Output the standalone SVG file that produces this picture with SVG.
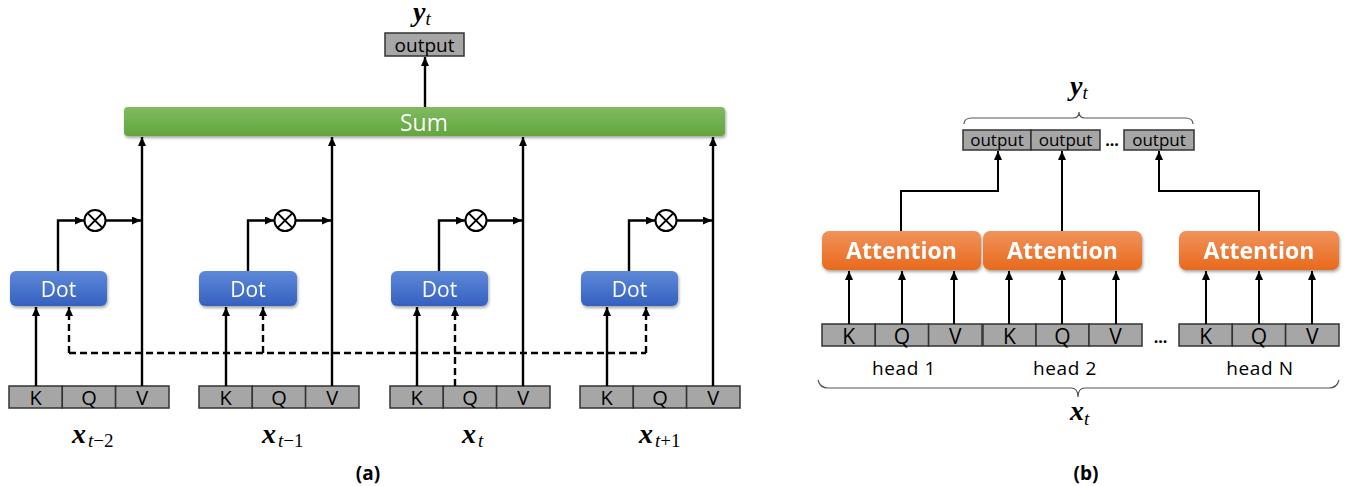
<svg xmlns="http://www.w3.org/2000/svg" width="1347" height="486" viewBox="0 0 1347 486">
  <defs>
    <linearGradient id="gSum" x1="0" y1="0" x2="0" y2="1">
      <stop offset="0" stop-color="#80ba62"/>
      <stop offset="1" stop-color="#62a63c"/>
    </linearGradient>
    <linearGradient id="gDot" x1="0" y1="0" x2="0" y2="1">
      <stop offset="0" stop-color="#5e89d8"/>
      <stop offset="1" stop-color="#3461c0"/>
    </linearGradient>
    <linearGradient id="gAtt" x1="0" y1="0" x2="0" y2="1">
      <stop offset="0" stop-color="#f1935b"/>
      <stop offset="1" stop-color="#e8691c"/>
    </linearGradient>
    <filter id="shadow" x="-10%" y="-30%" width="120%" height="170%">
      <feDropShadow dx="1" dy="2" stdDeviation="1.4" flood-color="#000" flood-opacity="0.35"/>
    </filter>
    <marker id="arrow" viewBox="0 0 9 8" refX="9" refY="4" markerWidth="9" markerHeight="8" markerUnits="userSpaceOnUse" orient="auto">
      <path d="M0,0 L9,4 L0,8 z" fill="#000"/>
    </marker>
  </defs>
  <style>
    text { font-family: "Open Sans", "Liberation Sans", sans-serif; }
    .cell { fill: #a6a6a6; stroke: #333; stroke-width: 1.5; }
    .wt { fill: #fff; text-anchor: middle; }
    .ct { fill: #000; text-anchor: middle; }
    .math { font-family: "Liberation Serif", "DejaVu Serif", serif; font-style: italic; fill: #000; }
    .mb { font-weight: bold; font-size: 28px; }
    .ms { font-size: 19px; }
    .up { font-style: normal; }
    .cap { font-weight: bold; font-size: 19px; text-anchor: middle; fill: #000; }
    .ln { fill: none; stroke: #000; stroke-width: 2.4; }
    .lnb { fill: none; stroke: #000; stroke-width: 2; }
    .dash { fill: none; stroke: #000; stroke-width: 2.4; stroke-dasharray: 7 4; }
    .brace { fill: none; stroke: #555; stroke-width: 1.2; }
  </style>

  <!-- ===== (a) single-head attention over time steps ===== -->
  <g id="a-output">
    <rect class="cell" x="385" y="33" width="79" height="23"/>
    <text class="ct" x="424.5" y="52" font-size="19">output</text>
    <text class="math" x="413" y="21"><tspan class="mb">y</tspan><tspan class="ms" dy="4">t</tspan></text>
  </g>

  <g id="a-sum" filter="url(#shadow)">
    <rect x="124" y="107" width="601" height="29" rx="4" fill="url(#gSum)"/>
    <text class="wt" x="424" y="131" font-size="23">Sum</text>
  </g>

  <!-- Dot units -->
  <g id="a-dot-1" filter="url(#shadow)">
    <rect x="10" y="271" width="97" height="35" rx="6" fill="url(#gDot)"/>
    <text class="wt" x="58.5" y="297" font-size="21">Dot</text>
  </g>
  <g id="a-dot-2" filter="url(#shadow)">
    <rect x="199" y="271" width="98" height="35" rx="6" fill="url(#gDot)"/>
    <text class="wt" x="248" y="297" font-size="21">Dot</text>
  </g>
  <g id="a-dot-3" filter="url(#shadow)">
    <rect x="391" y="271" width="97" height="35" rx="6" fill="url(#gDot)"/>
    <text class="wt" x="439.5" y="297" font-size="21">Dot</text>
  </g>
  <g id="a-dot-4" filter="url(#shadow)">
    <rect x="581" y="271" width="97" height="35" rx="6" fill="url(#gDot)"/>
    <text class="wt" x="629.5" y="297" font-size="21">Dot</text>
  </g>

  <!-- Multiply nodes -->
  <g id="a-mul-1"><circle cx="95" cy="220.5" r="10.5" fill="#fff" stroke="#000" stroke-width="2"/><path d="M87.6,213.1 L102.4,227.9 M102.4,213.1 L87.6,227.9" stroke="#000" stroke-width="2"/></g>
  <g id="a-mul-2"><circle cx="285" cy="220.5" r="10.5" fill="#fff" stroke="#000" stroke-width="2"/><path d="M277.6,213.1 L292.4,227.9 M292.4,213.1 L277.6,227.9" stroke="#000" stroke-width="2"/></g>
  <g id="a-mul-3"><circle cx="476" cy="220.5" r="10.5" fill="#fff" stroke="#000" stroke-width="2"/><path d="M468.6,213.1 L483.4,227.9 M483.4,213.1 L468.6,227.9" stroke="#000" stroke-width="2"/></g>
  <g id="a-mul-4"><circle cx="666" cy="220.5" r="10.5" fill="#fff" stroke="#000" stroke-width="2"/><path d="M658.6,213.1 L673.4,227.9 M673.4,213.1 L658.6,227.9" stroke="#000" stroke-width="2"/></g>

  <!-- K/Q/V inputs -->
  <g id="a-input-1">
    <rect class="cell" x="9" y="386" width="53.3" height="22"/>
    <rect class="cell" x="62.3" y="386" width="53.3" height="22"/>
    <rect class="cell" x="115.6" y="386" width="53.4" height="22"/>
    <text class="ct" x="35.7" y="405" font-size="20">K</text>
    <text class="ct" x="89" y="405" font-size="20">Q</text>
    <text class="ct" x="142.3" y="405" font-size="20">V</text>
    <text class="math" x="72" y="443"><tspan class="mb">x</tspan><tspan class="ms" dy="4" dx="2">t</tspan><tspan class="ms up">−2</tspan></text>
  </g>
  <g id="a-input-2">
    <rect class="cell" x="199" y="386" width="53.3" height="22"/>
    <rect class="cell" x="252.3" y="386" width="53.3" height="22"/>
    <rect class="cell" x="305.6" y="386" width="53.4" height="22"/>
    <text class="ct" x="225.7" y="405" font-size="20">K</text>
    <text class="ct" x="279" y="405" font-size="20">Q</text>
    <text class="ct" x="332.3" y="405" font-size="20">V</text>
    <text class="math" x="262" y="443"><tspan class="mb">x</tspan><tspan class="ms" dy="4" dx="2">t</tspan><tspan class="ms up">−1</tspan></text>
  </g>
  <g id="a-input-3">
    <rect class="cell" x="390" y="386" width="53.3" height="22"/>
    <rect class="cell" x="443.3" y="386" width="53.3" height="22"/>
    <rect class="cell" x="496.6" y="386" width="53.4" height="22"/>
    <text class="ct" x="416.7" y="405" font-size="20">K</text>
    <text class="ct" x="470" y="405" font-size="20">Q</text>
    <text class="ct" x="523.3" y="405" font-size="20">V</text>
    <text class="math" x="462" y="443"><tspan class="mb">x</tspan><tspan class="ms" dy="4" dx="2">t</tspan></text>
  </g>
  <g id="a-input-4">
    <rect class="cell" x="580" y="386" width="53.3" height="22"/>
    <rect class="cell" x="633.3" y="386" width="53.3" height="22"/>
    <rect class="cell" x="686.6" y="386" width="53.4" height="22"/>
    <text class="ct" x="606.7" y="405" font-size="20">K</text>
    <text class="ct" x="660" y="405" font-size="20">Q</text>
    <text class="ct" x="713.3" y="405" font-size="20">V</text>
    <text class="math" x="639" y="443"><tspan class="mb">x</tspan><tspan class="ms" dy="4" dx="2">t</tspan><tspan class="ms up">+1</tspan></text>
  </g>

  <g id="a-connectors">
    <path class="ln" d="M425,107 V57" marker-end="url(#arrow)"/>
    <!-- V to Sum -->
    <path class="ln" d="M142,386 V137" marker-end="url(#arrow)"/>
    <path class="ln" d="M332,386 V137" marker-end="url(#arrow)"/>
    <path class="ln" d="M523,386 V137" marker-end="url(#arrow)"/>
    <path class="ln" d="M713,386 V137" marker-end="url(#arrow)"/>
    <!-- Dot to multiply -->
    <path class="ln" d="M58,271 V220.5 H84" marker-end="url(#arrow)"/>
    <path class="ln" d="M248,271 V220.5 H274" marker-end="url(#arrow)"/>
    <path class="ln" d="M439,271 V220.5 H465" marker-end="url(#arrow)"/>
    <path class="ln" d="M629,271 V220.5 H655" marker-end="url(#arrow)"/>
    <!-- multiply to V line -->
    <path class="ln" d="M106,220.5 H141" marker-end="url(#arrow)"/>
    <path class="ln" d="M296,220.5 H331" marker-end="url(#arrow)"/>
    <path class="ln" d="M487,220.5 H522" marker-end="url(#arrow)"/>
    <path class="ln" d="M677,220.5 H712" marker-end="url(#arrow)"/>
    <!-- K to Dot -->
    <path class="ln" d="M36,386 V307" marker-end="url(#arrow)"/>
    <path class="ln" d="M226,386 V307" marker-end="url(#arrow)"/>
    <path class="ln" d="M417,386 V307" marker-end="url(#arrow)"/>
    <path class="ln" d="M607,386 V307" marker-end="url(#arrow)"/>
    <!-- query of x_t shared by all Dot units -->
    <path class="dash" d="M69,353 H646"/>
    <path class="dash" d="M69,353 V307" marker-end="url(#arrow)"/>
    <path class="dash" d="M263,353 V307" marker-end="url(#arrow)"/>
    <path class="dash" d="M455,386 V307" marker-end="url(#arrow)"/>
    <path class="dash" d="M646,353 V307" marker-end="url(#arrow)"/>
  </g>

  <text class="cap" x="368" y="480">(a)</text>

  <!-- ===== (b) multi-head attention ===== -->
  <g id="b-outputs">
    <path class="brace" d="M964,124 Q964,118 972,118 H1073 Q1079,118 1079,112 Q1079,118 1085,118 H1185 Q1193,118 1193,124"/>
    <text class="math" x="1070" y="95"><tspan class="mb">y</tspan><tspan class="ms" dy="4">t</tspan></text>
    <rect class="cell" x="963" y="130" width="68" height="20"/>
    <rect class="cell" x="1031" y="130" width="69" height="20"/>
    <rect class="cell" x="1124" y="130" width="70" height="20"/>
    <text class="ct" x="997" y="146" font-size="17">output</text>
    <text class="ct" x="1065.5" y="146" font-size="17">output</text>
    <text class="ct" x="1159" y="146" font-size="17">output</text>
    <text class="ct" x="1112" y="146" font-size="16" font-weight="bold">...</text>
  </g>

  <g id="b-attention-1" filter="url(#shadow)">
    <rect x="822" y="231" width="159" height="39" rx="7" fill="url(#gAtt)"/>
    <text class="wt" x="901.5" y="259" font-size="23" font-weight="bold">Attention</text>
  </g>
  <g id="b-attention-2" filter="url(#shadow)">
    <rect x="983" y="231" width="159" height="39" rx="7" fill="url(#gAtt)"/>
    <text class="wt" x="1062.5" y="259" font-size="23" font-weight="bold">Attention</text>
  </g>
  <g id="b-attention-3" filter="url(#shadow)">
    <rect x="1179" y="231" width="160" height="39" rx="7" fill="url(#gAtt)"/>
    <text class="wt" x="1259" y="259" font-size="23" font-weight="bold">Attention</text>
  </g>

  <g id="b-head-1">
    <rect class="cell" x="822" y="324" width="53.3" height="22"/>
    <rect class="cell" x="875.3" y="324" width="53.3" height="22"/>
    <rect class="cell" x="928.6" y="324" width="53.4" height="22"/>
    <text class="ct" x="848.7" y="344" font-size="21">K</text>
    <text class="ct" x="902" y="344" font-size="21">Q</text>
    <text class="ct" x="955.3" y="344" font-size="21">V</text>
    <text class="ct" x="904" y="375" font-size="19" letter-spacing="0.6">head 1</text>
  </g>
  <g id="b-head-2">
    <rect class="cell" x="983" y="324" width="53" height="22"/>
    <rect class="cell" x="1036" y="324" width="53" height="22"/>
    <rect class="cell" x="1089" y="324" width="53" height="22"/>
    <text class="ct" x="1009.5" y="344" font-size="21">K</text>
    <text class="ct" x="1062.5" y="344" font-size="21">Q</text>
    <text class="ct" x="1115.5" y="344" font-size="21">V</text>
    <text class="ct" x="1065" y="375" font-size="19" letter-spacing="0.6">head 2</text>
  </g>
  <text class="ct" x="1160.5" y="343" font-size="16" font-weight="bold">...</text>
  <g id="b-head-n">
    <rect class="cell" x="1179" y="324" width="53.3" height="22"/>
    <rect class="cell" x="1232.3" y="324" width="53.3" height="22"/>
    <rect class="cell" x="1285.6" y="324" width="53.4" height="22"/>
    <text class="ct" x="1205.7" y="344" font-size="21">K</text>
    <text class="ct" x="1259" y="344" font-size="21">Q</text>
    <text class="ct" x="1312.3" y="344" font-size="21">V</text>
    <text class="ct" x="1260" y="375" font-size="19" letter-spacing="0.6">head N</text>
  </g>

  <g id="b-input">
    <path class="brace" d="M818,380 Q820,388 828,388 H1071 Q1078,388 1078,397 Q1078,388 1085,388 H1329 Q1337,388 1339,380"/>
    <text class="math" x="1070" y="420"><tspan class="mb">x</tspan><tspan class="ms" dy="5">t</tspan></text>
  </g>

  <g id="b-connectors">
    <path class="lnb" d="M901,231 V191 H998 V151" marker-end="url(#arrow)"/>
    <path class="lnb" d="M1062,231 V151" marker-end="url(#arrow)"/>
    <path class="lnb" d="M1259,231 V191 H1159 V151" marker-end="url(#arrow)"/>
    <path class="lnb" d="M849,324 V271" marker-end="url(#arrow)"/>
    <path class="lnb" d="M902,324 V271" marker-end="url(#arrow)"/>
    <path class="lnb" d="M954,324 V271" marker-end="url(#arrow)"/>
    <path class="lnb" d="M1009,324 V271" marker-end="url(#arrow)"/>
    <path class="lnb" d="M1062,324 V271" marker-end="url(#arrow)"/>
    <path class="lnb" d="M1116,324 V271" marker-end="url(#arrow)"/>
    <path class="lnb" d="M1206,324 V271" marker-end="url(#arrow)"/>
    <path class="lnb" d="M1259,324 V271" marker-end="url(#arrow)"/>
    <path class="lnb" d="M1312,324 V271" marker-end="url(#arrow)"/>
  </g>

  <text class="cap" x="1086" y="480">(b)</text>
</svg>
